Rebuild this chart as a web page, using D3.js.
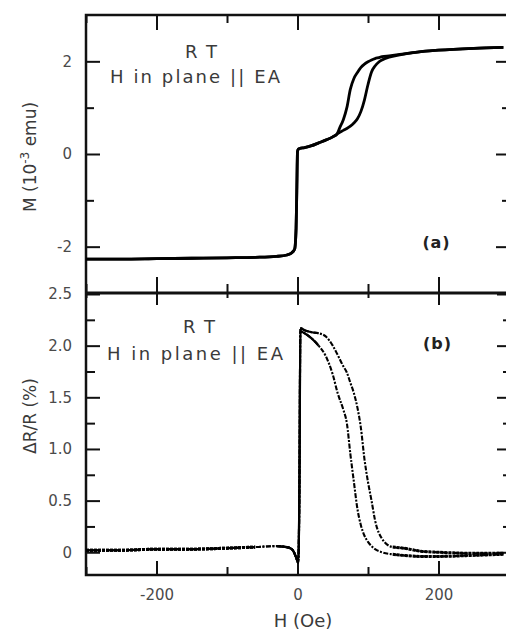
<!DOCTYPE html>
<html>
<head>
<meta charset="utf-8">
<script src="https://cdn.jsdelivr.net/npm/d3@7"></script>
<style>
  body { margin: 0; background: #fff; }
  text { font-family: "DejaVu Sans", sans-serif; }
</style>
</head>
<body>
<div id="chart"></div>
<script>
// field values (Oe) for the magnetization loop
var hM = [-300, -250, -200, -150, -100, -60, -30, -15, -8, -4, -2, -1, 0, 1, 3, 10, 20, 30, 40, 50,
  56, 60, 65, 70, 75, 80, 85, 90, 95, 100, 105, 110, 115, 120, 130, 145, 170, 200, 250, 292];
// M (10^-3 emu), branch switching at the lower field
var mLow = [-2.27, -2.27, -2.26, -2.25, -2.24, -2.23, -2.21, -2.18, -2.13, -2.05, -1.6, -0.8, 0.05, 0.10, 0.12, 0.14, 0.18, 0.24, 0.30, 0.37,
  0.43, 0.57, 0.74, 1.00, 1.40, 1.63, 1.76, 1.87, 1.94, 1.99, 2.03, 2.06, 2.08, 2.10, 2.12, 2.15, 2.20, 2.24, 2.28, 2.30];
// M (10^-3 emu), branch switching at the higher field
var mHigh = [-2.27, -2.27, -2.26, -2.25, -2.24, -2.23, -2.21, -2.18, -2.13, -2.05, -1.6, -0.8, 0.05, 0.10, 0.12, 0.14, 0.18, 0.24, 0.30, 0.37,
  0.43, 0.47, 0.51, 0.55, 0.60, 0.67, 0.76, 0.92, 1.17, 1.50, 1.77, 1.90, 1.98, 2.03, 2.09, 2.14, 2.20, 2.24, 2.28, 2.30];

// field values (Oe) for the magnetoresistance
var hR = [-300, -250, -200, -150, -100, -60, -30, -15, -8, -5, -2, 1, 3, 4, 10, 20, 30, 40, 50, 57,
  65, 70, 75, 80, 85, 90, 95, 100, 105, 110, 120, 135, 150, 175, 200, 250, 292];
// dR/R (%), lower branch
var rLow = [0.02, 0.02, 0.03, 0.03, 0.04, 0.05, 0.06, 0.05, 0.03, 0.0, -0.05, -0.1, 0.9, 2.14, 2.12, 2.07, 2.00, 1.90, 1.72, 1.54,
  1.38, 1.25, 0.95, 0.68, 0.42, 0.26, 0.16, 0.10, 0.06, 0.03, 0.0, -0.02, -0.03, -0.04, -0.04, -0.03, -0.02];
// dR/R (%), upper branch
var rHigh = [0.02, 0.02, 0.03, 0.03, 0.04, 0.05, 0.06, 0.05, 0.03, 0.0, -0.05, -0.1, 0.9, 2.17, 2.15, 2.13, 2.12, 2.09, 2.00, 1.91,
  1.80, 1.74, 1.64, 1.54, 1.40, 1.20, 0.90, 0.68, 0.50, 0.31, 0.13, 0.05, 0.04, 0.01, 0.0, -0.01, -0.01];

// tick values
var xMajor = [-200, 0, 200];
var xMinor = [-300, -100, 100, 300];
var mMajor = [-2, 0, 2];
var mMinor = [-1, 1];
var rMajor = [0, 0.5, 1.0, 1.5, 2.0, 2.5];
var rMinor = [0.25, 0.75, 1.25, 1.75, 2.25];

var svgWidth = 506, svgHeight = 630;
var left = 86, right = 509;
var topA = 15, mid = 293, bottomB = 575;

var svg = d3.select("#chart").append("svg")
  .attr("width", svgWidth)
  .attr("height", svgHeight);

var x = d3.scaleLinear().domain([-300, 300]).range([left, right]);
var yM = d3.scaleLinear().domain([-3, 3]).range([mid, topA]);
var yR = d3.scaleLinear().domain([-0.22, 2.5]).range([bottomB, mid + 1]);

var fmt = function(d) { return String(d).replace("\u2212", "-"); };

function addAxis(axis, tx, ty, labels) {
  var g = svg.append("g")
    .attr("transform", `translate(${tx}, ${ty})`)
    .call(axis);
  g.select(".domain").remove();
  g.selectAll("line").attr("stroke", "#111").attr("stroke-width", 2);
  if (!labels) g.selectAll("text").remove();
  g.selectAll("text")
    .attr("fill", "#4a4a4a")
    .style("font-size", "15px")
    .style("font-family", "DejaVu Sans, sans-serif");
  return g;
}

// top panel (a) ticks
addAxis(d3.axisLeft(yM).tickValues(mMajor).tickSize(-14).tickPadding(14).tickFormat(fmt), left, 0, true);
addAxis(d3.axisLeft(yM).tickValues(mMinor).tickSize(-8), left, 0, false);
addAxis(d3.axisRight(yM).tickValues(mMajor).tickSize(-13), right, 0, false);
addAxis(d3.axisRight(yM).tickValues(mMinor).tickSize(-7), right, 0, false);
addAxis(d3.axisTop(x).tickValues(xMajor).tickSize(-15), 0, topA, false);
addAxis(d3.axisTop(x).tickValues(xMinor).tickSize(-8), 0, topA, false);
addAxis(d3.axisBottom(x).tickValues(xMajor).tickSize(-16), 0, mid, false);
addAxis(d3.axisBottom(x).tickValues(xMinor).tickSize(-9), 0, mid, false);

// bottom panel (b) ticks
addAxis(d3.axisLeft(yR).tickValues(rMajor).tickSize(-14).tickPadding(14).tickFormat(d => d === 0 ? "0" : d3.format(".1f")(d)), left, 0, true);
addAxis(d3.axisLeft(yR).tickValues(rMinor).tickSize(-9), left, 0, false);
addAxis(d3.axisRight(yR).tickValues(rMajor).tickSize(-12), right, 0, false);
addAxis(d3.axisRight(yR).tickValues(rMinor).tickSize(-6), right, 0, false);
addAxis(d3.axisTop(x).tickValues(xMajor).tickSize(-12), 0, mid, false);
addAxis(d3.axisTop(x).tickValues(xMinor).tickSize(-5), 0, mid, false);
addAxis(d3.axisBottom(x).tickValues(xMajor).tickSize(-14).tickPadding(14).tickFormat(fmt), 0, bottomB, true);
addAxis(d3.axisBottom(x).tickValues(xMinor).tickSize(-8), 0, bottomB, false);

// frames
svg.append("rect")
  .attr("x", left).attr("y", topA)
  .attr("width", right - left).attr("height", bottomB - topA)
  .attr("fill", "none").attr("stroke", "#111").attr("stroke-width", 2.5);
svg.append("line")
  .attr("x1", left).attr("x2", right)
  .attr("y1", mid).attr("y2", mid)
  .attr("stroke", "#111").attr("stroke-width", 3);

// curves
var lineM = d3.line().x(d => x(d[0])).y(d => yM(d[1])).curve(d3.curveMonotoneX);
var lineR = d3.line().x(d => x(d[0])).y(d => yR(d[1])).curve(d3.curveMonotoneX);

[mLow, mHigh].forEach(function(series) {
  svg.append("path")
    .datum(hM.map((h, i) => [h, series[i]]))
    .attr("d", lineM)
    .attr("fill", "none")
    .attr("stroke", "#000")
    .attr("stroke-width", 2.8)
    .attr("stroke-linejoin", "round");
});

[rLow, rHigh].forEach(function(series) {
  var pts = hR.map((h, i) => [h, series[i]]);
  svg.append("path")
    .datum(pts)
    .attr("d", lineR)
    .attr("fill", "none")
    .attr("stroke", "#000")
    .attr("stroke-width", 2.1)
    .attr("stroke-dasharray", "5,1.5,2,1.5");
  // dense flat parts far from zero field
  [pts.filter(d => d[0] <= -40), pts.filter(d => d[0] >= 135)].forEach(function(part) {
    svg.append("path")
      .datum(part)
      .attr("d", lineR)
      .attr("fill", "none")
      .attr("stroke", "#000")
      .attr("stroke-width", 3)
      .attr("stroke-dasharray", "3,1");
  });
  // solid part around the switching at zero field
  svg.append("path")
    .datum(pts.filter(d => d[0] >= -50 && d[0] <= 30))
    .attr("d", lineR)
    .attr("fill", "none")
    .attr("stroke", "#000")
    .attr("stroke-width", 2.2);
});

// annotations
function note(txt, cx, cy, len, size, weight, color) {
  svg.append("text")
    .attr("x", cx).attr("y", cy)
    .attr("text-anchor", "middle")
    .attr("textLength", len)
    .attr("lengthAdjust", "spacing")
    .style("font-size", size + "px")
    .style("font-weight", weight)
    .attr("fill", color)
    .text(txt);
}
note("RT", 201, 58, 32, 18, "normal", "#3a3a3a");
note("H in plane || EA", 195, 83, 170, 18, "normal", "#3a3a3a");
note("(a)", 436, 248, 27, 16, "bold", "#222");
note("RT", 199, 333, 32, 18, "normal", "#3a3a3a");
note("H in plane || EA", 195, 360, 176, 18, "normal", "#3a3a3a");
note("(b)", 437, 349, 28, 16, "bold", "#222");

// axis titles
var yTitleA = svg.append("text")
  .attr("transform", "translate(36, 157) rotate(-90)")
  .attr("text-anchor", "middle")
  .attr("fill", "#3a3a3a")
  .style("font-size", "17px");
yTitleA.append("tspan").text("M (10");
yTitleA.append("tspan").attr("dy", -7).style("font-size", "12px").text("-3");
yTitleA.append("tspan").attr("dy", 7).text(" emu)");

svg.append("text")
  .attr("transform", "translate(36, 416) rotate(-90)")
  .attr("text-anchor", "middle")
  .attr("fill", "#3a3a3a")
  .style("font-size", "17px")
  .text("\u0394R/R (%)");

svg.append("text")
  .attr("x", 303).attr("y", 627)
  .attr("text-anchor", "middle")
  .attr("fill", "#3a3a3a")
  .style("font-size", "18px")
  .text("H (Oe)");
</script>
</body>
</html>
